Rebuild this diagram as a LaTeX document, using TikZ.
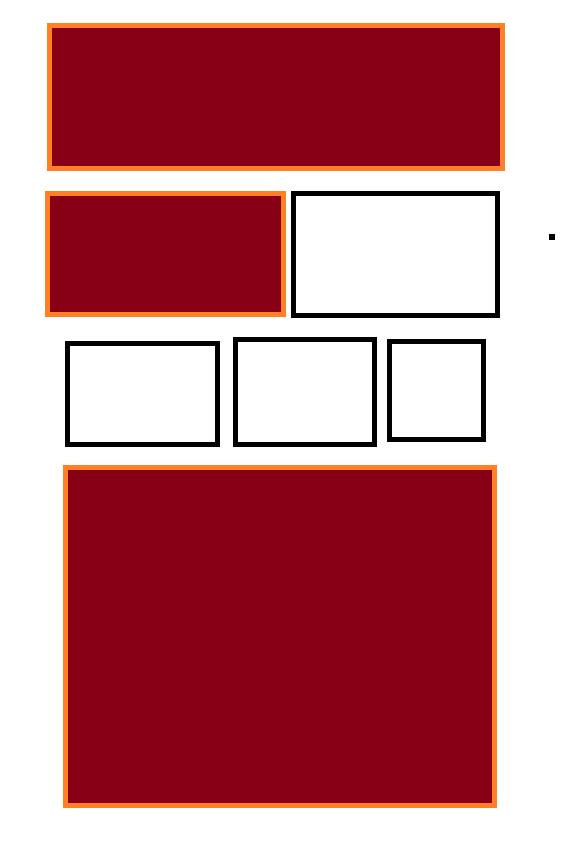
\documentclass[tikz,border=0pt]{standalone}
\definecolor{darkred}{RGB}{135,0,22}
\definecolor{orng}{RGB}{255,127,39}
\begin{document}
\begin{tikzpicture}[x=1pt,y=-1pt,
  redbox/.style={draw=orng,fill=darkred,line width=5pt},
  whitebox/.style={draw=black,fill=white,line width=5pt}]
\useasboundingbox[fill=white] (0,0) rectangle (580,846);
\path[redbox] (49.5,25.5) rectangle (502.5,168.5) coordinate (b1);
\path[redbox] (47.5,193.5) rectangle (283.5,314) coordinate (b2);
\path[whitebox] (293.5,193.5) rectangle (497.5,315) coordinate (b3);
\path[whitebox] (67.5,343.5) rectangle (217.5,444.8) coordinate (b4);
\path[whitebox] (235.5,339.8) rectangle (374.5,444.8) coordinate (b5);
\path[whitebox] (389.5,341.8) rectangle (483.5,439.8) coordinate (b6);
\path[redbox] (65,467.5) rectangle (494,805) coordinate (b7);
\fill[black] (549,234) rectangle (555,240) coordinate (dot);
\end{tikzpicture}
\end{document}
